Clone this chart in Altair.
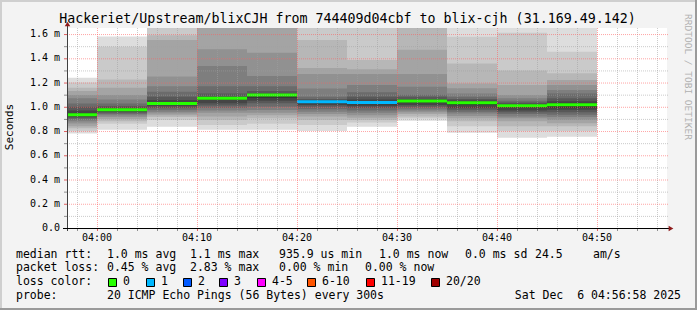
import altair as alt
import pandas as pd

MONO = "DejaVu Sans Mono"

# ---------------- data (minutes relative to 04:00, values in ms) ----------------
bar_start = [-5, 0, 5, 10, 15, 20, 25, 30, 35, 40, 45]
bar_end = [0, 5, 10, 15, 20, 25, 30, 35, 40, 45, 50]
median_ms = [0.934, 0.976, 1.028, 1.070, 1.097, 1.042, 1.035, 1.047, 1.033, 1.009, 1.017]
median_color = ["#26ff00", "#26ff00", "#26ff00", "#26ff00", "#26ff00", "#00b8ff",
                "#00b8ff", "#26ff00", "#26ff00", "#26ff00", "#26ff00"]

# 20 sorted ping rtts per 5-minute step (ms)
pings_1 = [0.78, 0.80, 0.822, 0.84, 0.863, 0.88, 0.895, 0.905, 0.915, 0.925,
           0.945, 0.97, 1.00, 1.028, 1.07, 1.097, 1.13, 1.157, 1.20, 1.24]
pings_2 = [0.81, 0.86, 0.88, 0.90, 0.915, 0.93, 0.94, 0.95, 0.96, 0.97,
           0.982, 0.992, 1.006, 1.028, 1.06, 1.097, 1.157, 1.226, 1.495, 1.58]
pings_3 = [0.835, 0.89, 0.915, 0.93, 0.945, 0.96, 0.975, 0.99, 1.005, 1.018,
           1.038, 1.056, 1.083, 1.124, 1.17, 1.25, 1.55, 1.59, 1.70, 1.80]
pings_4 = [0.81, 0.85, 0.89, 0.92, 0.95, 0.97, 0.99, 1.01, 1.03, 1.055,
           1.075, 1.083, 1.11, 1.17, 1.336, 1.474, 1.70, 1.80, 1.90, 2.00]
pings_5 = [0.81, 0.86, 0.905, 0.93, 0.95, 0.973, 1.00, 1.03, 1.05, 1.075,
           1.10, 1.11, 1.13, 1.17, 1.254, 1.446, 1.70, 1.80, 1.90, 2.00]
pings_6 = [0.80, 0.85, 0.89, 0.92, 0.94, 0.96, 0.98, 1.00, 1.015, 1.03,
           1.048, 1.055, 1.065, 1.083, 1.15, 1.27, 1.32, 1.55, 1.70, 1.90]
pings_7 = [0.835, 0.87, 0.89, 0.91, 0.93, 0.95, 0.97, 0.99, 1.005, 1.02,
           1.045, 1.06, 1.083, 1.12, 1.18, 1.27, 1.31, 1.385, 1.70, 1.90]
pings_8 = [0.885, 0.905, 0.92, 0.94, 0.955, 0.97, 0.985, 1.00, 1.015, 1.035,
           1.055, 1.065, 1.083, 1.10, 1.165, 1.27, 1.47, 1.80, 1.90, 2.00]
pings_9 = [0.786, 0.84, 0.88, 0.905, 0.925, 0.945, 0.96, 0.975, 0.99, 1.015,
           1.042, 1.052, 1.065, 1.083, 1.11, 1.152, 1.193, 1.358, 1.578, 1.75]
pings_10 = [0.745, 0.80, 0.84, 0.88, 0.905, 0.92, 0.94, 0.955, 0.97, 0.99,
            1.017, 1.025, 1.035, 1.05, 1.07, 1.097, 1.18, 1.30, 1.61, 1.70]
pings_11 = [0.753, 0.80, 0.84, 0.865, 0.89, 0.915, 0.935, 0.955, 0.975, 0.995,
            1.03, 1.045, 1.07, 1.11, 1.138, 1.18, 1.22, 1.276, 1.454, 1.70]
all_pings = [pings_1, pings_2, pings_3, pings_4, pings_5, pings_6,
             pings_7, pings_8, pings_9, pings_10, pings_11]

# grid / axis values
x_major = [0, 10, 20, 30, 40, 50]
x_major_labels = ["04:00", "04:10", "04:20", "04:30", "04:40", "04:50"]
x_minor = [-2, 2, 4, 6, 8, 12, 14, 16, 18, 22, 24, 26, 28, 32, 34, 36, 38,
           42, 44, 46, 48, 52, 54, 56]
y_major = [0.0, 0.2, 0.4, 0.6, 0.8, 1.0, 1.2, 1.4, 1.6]
y_major_labels = ["0.0", "0.2 m", "0.4 m", "0.6 m", "0.8 m", "1.0 m", "1.2 m", "1.4 m", "1.6 m"]
y_minor = [0.1, 0.3, 0.5, 0.7, 0.9, 1.1, 1.3, 1.5]

title_text = "Hackeriet/Upstream/blixCJH from 744409d04cbf to blix-cjh (31.169.49.142)"

row1_text = ["median rtt:", "1.0 ms avg", "1.1 ms max", "935.9 us min", "1.0 ms now",
             "0.0 ms sd", "24.5", "am/s"]
row1_x = [16, 107, 190, 279, 379, 465, 535, 593]
row2_text = ["packet loss:", "0.45 % avg", "2.83 % max", "0.00 % min", "0.00 % now"]
row2_x = [16, 107, 190, 279, 365]
loss_labels = ["0", "1", "2", "3", "4-5", "6-10", "11-19", "20/20"]
loss_colors = ["#26ff00", "#00b8ff", "#0059ff", "#7e00ff", "#ff00ff", "#ff5500", "#ff0000", "#a00000"]
loss_box_x = [108, 146, 183, 219, 257, 307, 366, 431]
probe_text = "20 ICMP Echo Pings (56 Bytes) every 300s"
date_text = "Sat Dec\u00a0\u00a06 04:56:58 2025"

# ---------------- layout ----------------
LEFT, TOP = 67, 28
W, H = 600, 200
xs = alt.Scale(domain=[-3, 57], nice=False, zero=False)
ys = alt.Scale(domain=[0, 1.65], nice=False, zero=False)

smoke_rows = []
for b, p in enumerate(all_pings):
    p = sorted(p)
    for i in range(1, 11):
        g = int(190 / 10 * (10 - i)) + 50
        smoke_rows.append(dict(x0=bar_start[b], x1=bar_end[b], lo=p[i - 1], hi=p[20 - i],
                               shade="#%02x%02x%02x" % (g, g, g), k=b * 10 + i))
smoke_df = pd.DataFrame(smoke_rows)
med_df = pd.DataFrame(dict(x0=bar_start, x1=bar_end, m=median_ms, c=median_color))

X = lambda f: alt.X(f, scale=xs, axis=None)
Y = lambda f: alt.Y(f, scale=ys, axis=None)

smoke = alt.Chart(smoke_df).mark_rect(clip=True).encode(
    x=X("x0:Q"), x2="x1:Q", y=Y("lo:Q"), y2="hi:Q",
    color=alt.Color("shade:N", scale=None), order="k:Q")

medians = alt.Chart(med_df).mark_rule(strokeWidth=3, clip=True).encode(
    x=X("x0:Q"), x2="x1:Q", y=Y("m:Q"), color=alt.Color("c:N", scale=None))

GRID_C = "#a0a0a0"
MGRID_C = "#ff5f5f"
xmin_df = pd.DataFrame(dict(v=x_minor))
xmaj_df = pd.DataFrame(dict(v=x_major, t=x_major_labels))
ymin_df = pd.DataFrame(dict(v=y_minor))
ymaj_df = pd.DataFrame(dict(v=y_major, t=y_major_labels))

vgrid_minor = alt.Chart(xmin_df).mark_rule(strokeDash=[1, 1], color=GRID_C, opacity=0.55,
                                           xOffset=0.5).encode(
    x=X("v:Q"), y=alt.value(0), y2=alt.value(200))
vtick_minor = alt.Chart(xmin_df).mark_rule(color="#909090", xOffset=0.5).encode(
    x=X("v:Q"), y=alt.value(200), y2=alt.value(203))
vgrid_major = alt.Chart(xmaj_df).mark_rule(strokeDash=[1, 1], color=MGRID_C, opacity=0.56,
                                           xOffset=0.5).encode(
    x=X("v:Q"), y=alt.value(0), y2=alt.value(200))
vtick_major = alt.Chart(xmaj_df).mark_rule(color="#e06060", xOffset=0.5).encode(
    x=X("v:Q"), y=alt.value(200), y2=alt.value(203))
hgrid_minor = alt.Chart(ymin_df).mark_rule(strokeDash=[1, 1], color=GRID_C, opacity=0.55,
                                           yOffset=0.5).encode(
    y=Y("v:Q"), x=alt.value(0), x2=alt.value(601))
htick_minor = alt.Chart(ymin_df).mark_rule(color="#909090", yOffset=0.5).encode(
    y=Y("v:Q"), x=alt.value(-3), x2=alt.value(0))
hgrid_major = alt.Chart(ymaj_df[ymaj_df.v > 0]).mark_rule(strokeDash=[1, 1], color=MGRID_C,
                                                          opacity=0.56, yOffset=0.5).encode(
    y=Y("v:Q"), x=alt.value(0), x2=alt.value(601))
htick_major = alt.Chart(ymaj_df).mark_rule(color="#e06060", yOffset=0.5).encode(
    y=Y("v:Q"), x=alt.value(-3), x2=alt.value(0))

axis_df = pd.DataFrame(dict(a=[0]))
y_axis_line = alt.Chart(axis_df).mark_rule(color="#404040").encode(
    x=alt.value(0.5), y=alt.value(-4), y2=alt.value(203))
x_axis_line = alt.Chart(axis_df).mark_rule(color="#000000").encode(
    y=alt.value(200.5), x=alt.value(-4), x2=alt.value(602))
y_arrow = alt.Chart(axis_df).mark_point(shape="triangle-up", filled=True, size=30,
                                        color="#8e1b1b", opacity=1).encode(
    x=alt.value(0.5), y=alt.value(-4))
x_arrow = alt.Chart(axis_df).mark_point(shape="triangle-right", filled=True, size=30,
                                        color="#8e1b1b", opacity=1).encode(
    x=alt.value(604), y=alt.value(200.5))

y_labels = alt.Chart(ymaj_df).mark_text(font=MONO, fontSize=10, align="right",
                                        baseline="middle", color="#000").encode(
    y=Y("v:Q"), x=alt.value(-7), text="t:N")
x_labels = alt.Chart(xmaj_df).mark_text(font=MONO, fontSize=10, align="center",
                                        baseline="middle", color="#000").encode(
    x=X("v:Q"), y=alt.value(209.5), text="t:N")

def txt(s, x, y, size=11.5, align="left", angle=0, color="#000"):
    kw = dict(font=MONO, fontSize=size, align=align, baseline="middle", color=color)
    if angle:
        kw["angle"] = angle
    return alt.Chart(pd.DataFrame(dict(t=[s]))).mark_text(**kw).encode(
        x=alt.value(x), y=alt.value(y), text="t:N")

title = txt(title_text, 347.5 - LEFT, 19 - TOP, size=13.3, align="center")
ytitle = txt("Seconds", 10 - LEFT, 127 - TOP, size=11, align="center", angle=270)
watermark = txt("RRDTOOL / TOBI OETIKER", 688 - LEFT, 77 - TOP, size=9.5, align="center",
                angle=90, color="#b0b0b0")

rows_layers = []
for s, x in zip(row1_text, row1_x):
    rows_layers.append(txt(s, x - LEFT, 254.5 - TOP))
for s, x in zip(row2_text, row2_x):
    rows_layers.append(txt(s, x - LEFT, 268.3 - TOP))
rows_layers.append(txt("loss color:", 16 - LEFT, 282.3 - TOP))
for lab, col, bx in zip(loss_labels, loss_colors, loss_box_x):
    rows_layers.append(
        alt.Chart(pd.DataFrame(dict(c=[col]))).mark_square(size=64, strokeWidth=1, stroke="#000",
                                                           opacity=1).encode(
            x=alt.value(bx + 4.5 - LEFT), y=alt.value(282.5 - TOP),
            fill=alt.Color("c:N", scale=None)))
    rows_layers.append(txt(lab, bx + 15 - LEFT, 282.3 - TOP))
rows_layers.append(txt("probe:", 16 - LEFT, 295.8 - TOP))
rows_layers.append(txt(probe_text, 107 - LEFT, 295.8 - TOP))
rows_layers.append(txt(date_text, 681 - LEFT, 295.8 - TOP, align="right"))

# 3D frame
frame = [
    alt.Chart(axis_df).mark_rule(color="#cfcfcf", strokeWidth=2).encode(
        x=alt.value(-LEFT), x2=alt.value(697 - LEFT), y=alt.value(1 - TOP)),
    alt.Chart(axis_df).mark_rule(color="#cfcfcf", strokeWidth=2).encode(
        y=alt.value(-TOP), y2=alt.value(310 - TOP), x=alt.value(1 - LEFT)),
    alt.Chart(axis_df).mark_rule(color="#9a9a9a", strokeWidth=2).encode(
        x=alt.value(-LEFT), x2=alt.value(697 - LEFT), y=alt.value(309 - TOP)),
    alt.Chart(axis_df).mark_rule(color="#9a9a9a", strokeWidth=2).encode(
        y=alt.value(-TOP), y2=alt.value(310 - TOP), x=alt.value(696 - LEFT)),
]

chart = alt.layer(
    smoke, medians,
    vgrid_minor, hgrid_minor, vgrid_major, hgrid_major,
    vtick_minor, vtick_major, htick_minor, htick_major,
    y_axis_line, x_axis_line, y_arrow, x_arrow,
    y_labels, x_labels, title, ytitle, watermark,
    *rows_layers, *frame,
).properties(
    width=W, height=H,
    autosize=alt.AutoSizeParams(type="none"),
    padding={"left": LEFT, "top": TOP, "right": 697 - LEFT - W, "bottom": 310 - TOP - H},
    background="#f3f3f3",
).configure_view(fill="white", stroke=None)

chart.save("out.html", embed_options={"renderer": "svg", "actions": False})
